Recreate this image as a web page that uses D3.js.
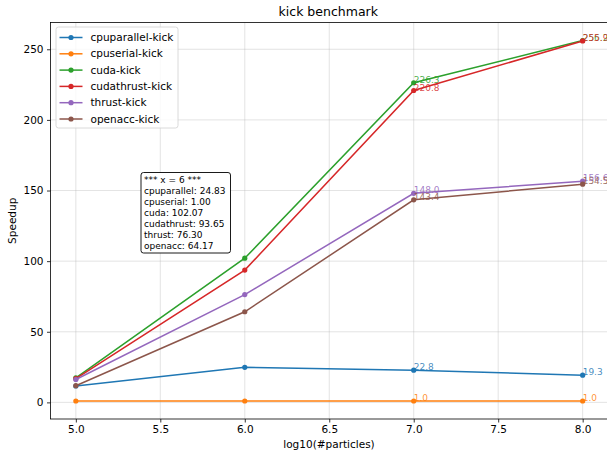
<!DOCTYPE html>
<html>
<head>
<meta charset="utf-8">
<script src="https://cdn.jsdelivr.net/npm/d3@7"></script>
<style>
  body { margin: 0; background: #fff; }
  svg { font-family: "DejaVu Sans", sans-serif; }
</style>
</head>
<body>
<div id="chart"></div>
<script>
'use strict';

var xs = [5, 6, 7, 8];
var seriesNames = ['cpuparallel', 'cpuserial', 'cuda', 'cudathrust', 'thrust', 'openacc'];
var cpuparallel = [11.6, 24.83, 22.8, 19.3];
var cpuserial = [1.0, 1.0, 1.0, 1.0];
var cuda = [17.4, 102.07, 226.3, 256.2];
var cudathrust = [16.8, 93.65, 220.8, 255.9];
var thrust = [16.2, 76.30, 148.0, 156.6];
var openacc = [11.8, 64.17, 143.4, 154.5];
var colors = ['#1f77b4', '#ff7f0e', '#2ca02c', '#d62728', '#9467bd', '#8c564b'];
var xTicks = [5.0, 5.5, 6.0, 6.5, 7.0, 7.5, 8.0];
var yTicks = [0, 50, 100, 150, 200, 250];
var labelledX = [7, 8];
var boxX = 6;

var values = [cpuparallel, cpuserial, cuda, cudathrust, thrust, openacc];

var width = 607,
    height = 453;

var plotLeft = 50.5, plotRight = 608, plotTop = 22.5, plotBottom = 419;

var svg = d3.select('#chart').append('svg')
    .attr('width', width)
    .attr('height', height);

var yMin = 1, yMax = 256.2;
var yPad = (yMax - yMin) * 0.05;
var x = d3.scaleLinear().domain([4.85, 8.15]).range([plotLeft, plotRight]);
var y = d3.scaleLinear().domain([yMin - yPad, yMax + yPad]).range([plotBottom, plotTop]);

// grid
var grid = svg.append('g');
grid.selectAll('.gx').data(xTicks).enter().append('line')
    .attr('x1', function(d) { return x(d); })
    .attr('x2', function(d) { return x(d); })
    .attr('y1', plotTop).attr('y2', plotBottom)
    .attr('stroke', '#b0b0b0').attr('stroke-opacity', 0.45).attr('stroke-width', 0.8);
grid.selectAll('.gy').data(yTicks).enter().append('line')
    .attr('y1', function(d) { return y(d); })
    .attr('y2', function(d) { return y(d); })
    .attr('x1', plotLeft).attr('x2', plotRight)
    .attr('stroke', '#b0b0b0').attr('stroke-opacity', 0.45).attr('stroke-width', 0.8);

// axes
var xAxis = svg.append('g')
    .attr('transform', 'translate(0,' + plotBottom + ')')
    .call(d3.axisBottom(x).tickValues(xTicks).tickFormat(d3.format('.1f')).tickSize(3.5).tickPadding(3.5));
var yAxis = svg.append('g')
    .attr('transform', 'translate(' + plotLeft + ',0)')
    .call(d3.axisLeft(y).tickValues(yTicks).tickSize(3.5).tickPadding(3.5));
[xAxis, yAxis].forEach(function(a) {
    a.select('.domain').remove();
    a.selectAll('text').attr('font-size', 10.5).attr('fill', '#000')
        .attr('font-family', '"DejaVu Sans", sans-serif');
    a.selectAll('line').attr('stroke', '#000').attr('stroke-width', 0.8);
});

// lines
var line = d3.line()
    .x(function(d, i) { return x(xs[i]); })
    .y(function(d) { return y(d); });

var series = svg.append('g').selectAll('g')
    .data(values)
    .enter()
    .append('g');

series.append('path')
    .attr('d', function(d) { return line(d); })
    .attr('fill', 'none')
    .attr('stroke', function(d, i) { return colors[i]; })
    .attr('stroke-width', 1.5);

series.selectAll('circle')
    .data(function(d, i) { return d.map(function(v, j) { return { v: v, x: xs[j], c: colors[i] }; }); })
    .enter()
    .append('circle')
    .attr('cx', function(d) { return x(d.x); })
    .attr('cy', function(d) { return y(d.v); })
    .attr('r', 2.6)
    .attr('fill', function(d) { return d.c; });

// value labels
series.selectAll('text')
    .data(function(d, i) {
        return d.map(function(v, j) { return { v: v, x: xs[j], c: colors[i] }; })
            .filter(function(p) { return labelledX.indexOf(p.x) >= 0; });
    })
    .enter()
    .append('text')
    .attr('x', function(d) { return x(d.x); })
    .attr('y', function(d) { return y(d.v); })
    .attr('font-size', 9)
    .attr('fill', function(d) { return d.c; })
    .attr('fill-opacity', 0.85)
    .text(function(d) { return d.v.toFixed(1); });

// spines
svg.append('rect')
    .attr('x', plotLeft).attr('y', plotTop)
    .attr('width', plotRight - plotLeft).attr('height', plotBottom - plotTop)
    .attr('fill', 'none').attr('stroke', '#000').attr('stroke-width', 0.8);

// annotation box at x = 6
var bi = xs.indexOf(boxX);
var boxLines = ['*** x = ' + boxX + ' ***'].concat(seriesNames.map(function(n, i) {
    return n + ': ' + values[i][bi].toFixed(2);
}));
var box = svg.append('g').attr('transform', 'translate(141,172.5)');
box.append('rect')
    .attr('width', 89.5).attr('height', 80.5)
    .attr('rx', 2.5)
    .attr('fill', '#fff').attr('stroke', '#000').attr('stroke-width', 0.9);
box.selectAll('text').data(boxLines).enter().append('text')
    .attr('x', 3)
    .attr('y', function(d, i) { return 10 + i * 11; })
    .attr('font-size', 9)
    .attr('fill', '#000')
    .text(function(d) { return d; });

// legend
var legend = svg.append('g').attr('transform', 'translate(56,27)');
legend.append('rect')
    .attr('width', 122).attr('height', 101)
    .attr('rx', 2.5)
    .attr('fill', '#fff').attr('fill-opacity', 0.8)
    .attr('stroke', '#d0d0d0').attr('stroke-width', 0.8);
var items = legend.selectAll('.item').data(seriesNames).enter().append('g')
    .attr('transform', function(d, i) { return 'translate(0,' + (10.5 + i * 16.3) + ')'; });
items.append('line')
    .attr('x1', 3.5).attr('x2', 26.5)
    .attr('stroke', function(d, i) { return colors[i]; })
    .attr('stroke-width', 1.5);
items.append('circle')
    .attr('cx', 15).attr('r', 2.6)
    .attr('fill', function(d, i) { return colors[i]; });
items.append('text')
    .attr('x', 34.5).attr('dy', '0.35em')
    .attr('font-size', 10.5)
    .attr('fill', '#000')
    .text(function(d) { return d + '-kick'; });

// titles
svg.append('text')
    .attr('x', (plotLeft + plotRight) / 2 - 1).attr('y', 16)
    .attr('text-anchor', 'middle')
    .attr('font-size', 12.5)
    .text('kick benchmark');
svg.append('text')
    .attr('x', 329).attr('y', 448)
    .attr('text-anchor', 'middle')
    .attr('font-size', 10.5)
    .text('log10(#particles)');
svg.append('text')
    .attr('transform', 'translate(16,' + ((plotTop + plotBottom) / 2) + ') rotate(-90)')
    .attr('text-anchor', 'middle')
    .attr('font-size', 10.5)
    .text('Speedup');
</script>
</body>
</html>
